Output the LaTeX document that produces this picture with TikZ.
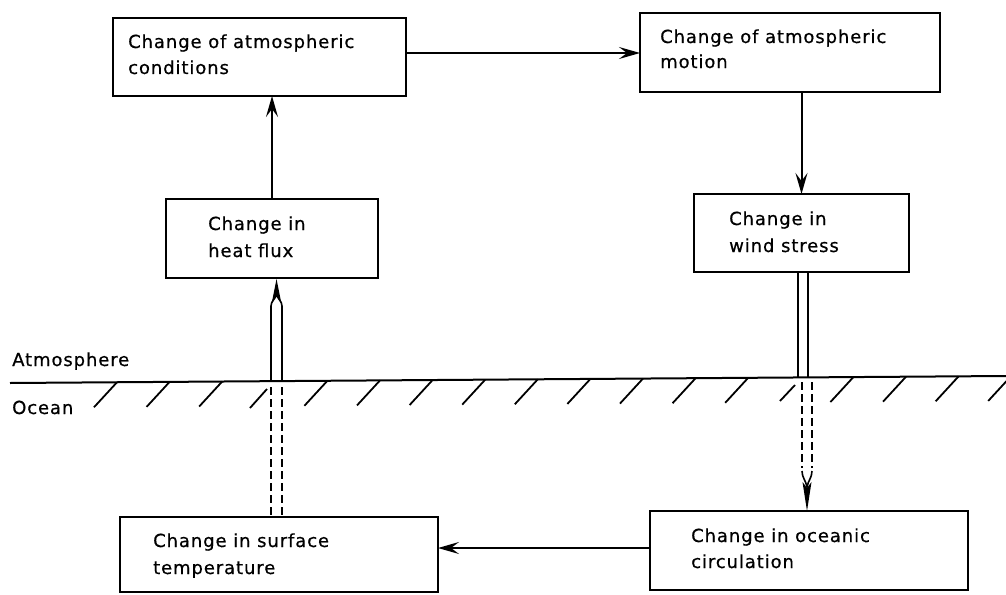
\documentclass[tikz,border=0pt]{standalone}
\usepackage{fontspec}
\setmainfont{DejaVu Sans}[LetterSpace=5,FakeBold=0.6]
\usetikzlibrary{arrows.meta}
\begin{document}
\begin{tikzpicture}[x=1pt,y=-1pt,
  box/.style={draw, line width=2pt, anchor=north west, inner sep=0pt, outer sep=0pt},
  txt/.style={anchor=base west, inner sep=0pt, font=\fontsize{18}{26}\selectfont},
  arr/.style={line width=2pt, -{Stealth[length=21pt,width=12pt,inset=8pt]}},
  dbl/.style={line width=1.6pt},
  dsh/.style={line width=1.6pt, dash pattern=on 8pt off 4pt},
  hatch/.style={line width=1.8pt}]
\useasboundingbox (0,0) rectangle (1006,594);
% boxes
\node[box, minimum width=293pt, minimum height=78pt] (A) at (113,18) {};
\node[box, minimum width=300pt, minimum height=79pt] (B) at (640,13) {};
\node[box, minimum width=212pt, minimum height=79pt] (H) at (166,199) {};
\node[box, minimum width=215pt, minimum height=78pt] (W) at (694,194) {};
\node[box, minimum width=318pt, minimum height=75pt] (S) at (120,517) {};
\node[box, minimum width=318pt, minimum height=79pt] (O) at (650,511) {};
% texts
\node[txt] (A1) at (128,48) {Change of atmospheric};
\node[txt] (A2) at (128,74) {conditions};
\node[txt] (B1) at (660,43) {Change of atmospheric};
\node[txt] (B2) at (660,68) {motion};
\node[txt] (H1) at (208,230) {Change in};
\node[txt] (H2) at (208,257) {heat flux};
\node[txt] (W1) at (729,225) {Change in};
\node[txt] (W2) at (729,252) {wind stress};
\node[txt] (S1) at (153,547) {Change in surface};
\node[txt] (S2) at (153,574) {temperature};
\node[txt] (O1) at (691,542) {Change in oceanic};
\node[txt] (O2) at (691,568) {circulation};
\node[txt] (atm) at (12,366) {Atmosphere};
\node[txt] (oce) at (12,414) {Ocean};
% single arrows
\coordinate (yAB) at (0,53);
\coordinate (yOS) at (0,548);
\draw[arr] (A.east |- yAB) -- (B.west |- yAB);
\draw[arr] (H.north) -- (H.north |- A.south);
\draw[arr] (W.north |- B.south) -- (W.north);
\draw[arr] (O.west |- yOS) -- (S.east |- yOS);
% surface line
\coordinate (sL) at (10,383);
\coordinate (sR) at (1006,376);
\draw[line width=2pt] (sL) -- (sR);
% hatches
\foreach \i in {0,1,2,4,5,6,7,8,9,10,11,12,14,15,16,17}{
  \pgfmathsetmacro{\xt}{117+52.6*\i}
  \pgfmathsetmacro{\yt}{383-0.00703*(\xt-10)}
  \draw[hatch] (\xt,\yt) -- (\xt-23,\yt+25);
}
\coordinate (h3a) at (267,389);
\coordinate (h3b) at (250,408);
\draw[hatch] (h3a) -- (h3b);
\coordinate (h13a) at (795,385);
\coordinate (h13b) at (780,401);
\draw[hatch] (h13a) -- (h13b);
% left double arrow (ocean -> heat flux)
\coordinate (L1b) at (271,381);
\coordinate (L1t) at (271,306);
\coordinate (L2t) at (282,306);
\coordinate (L2b) at (282,381);
\draw[dbl] (L1b) -- (L1t) to[out=90,in=-100] (276.5,294) to[out=-80,in=90] (L2t) -- (L2b);
\coordinate (Ltip) at (276.5,279);
\fill (Ltip) -- (281.5,304) -- (276.5,296) -- (271.5,304) -- cycle;
\coordinate (Ld1t) at (271,387);
\coordinate (Ld2t) at (282,387);
\draw[dsh] (Ld1t) -- (Ld1t |- S.north);
\draw[dsh] (Ld2t) -- (Ld2t |- S.north);
% right double arrow (wind stress -> ocean)
\coordinate (R1t) at (798,272);
\coordinate (R2t) at (808,272);
\coordinate (R1b) at (798,378);
\coordinate (R2b) at (808,378);
\draw[dbl] (R1t) -- (R1b);
\draw[dbl] (R2t) -- (R2b);
\coordinate (Rd1) at (802,382);
\coordinate (Rd2) at (812,382);
\coordinate (Rd1e) at (802,468);
\coordinate (Rd2e) at (812,468);
\draw[dsh] (Rd1) -- (Rd1e);
\draw[dsh] (Rd2) -- (Rd2e);
\draw[dbl] (802,471) to[out=-90,in=100] (807,487) to[out=80,in=-90] (812,471);
\coordinate (Rtip) at (807,511);
\fill (Rtip) -- (811.5,482) -- (807,488) -- (802.5,482) -- cycle;
\end{tikzpicture}
\end{document}
